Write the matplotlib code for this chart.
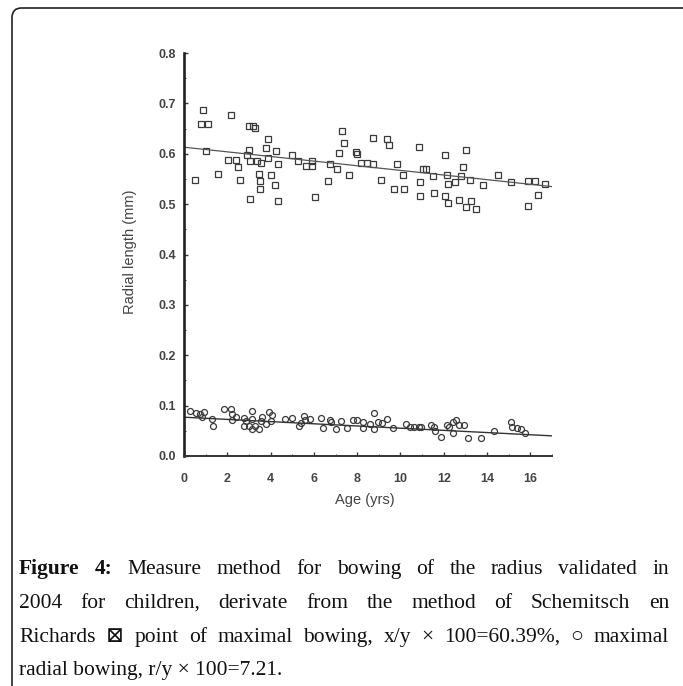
import numpy as np
import matplotlib
matplotlib.use('Agg')
import matplotlib.pyplot as plt
from matplotlib.patches import FancyBboxPatch
from matplotlib.ticker import MultipleLocator

# point of maximal bowing (squares)
sq_age = [0.49, 0.77, 0.90, 1.03, 1.10, 1.55, 2.04, 2.15, 2.41, 2.48,
          2.57, 2.93, 2.98, 3.00, 3.05, 3.05, 3.20, 3.30, 3.39, 3.45,
          3.50, 3.53, 3.55, 3.79, 3.90, 3.90, 4.04, 4.20, 4.23, 4.32,
          4.35, 4.97, 5.26, 5.62, 5.90, 5.90, 6.06, 6.64, 6.73, 7.05,
          7.17, 7.30, 7.41, 7.63, 7.95, 8.00, 8.19, 8.44, 8.71, 8.71,
          9.09, 9.36, 9.45, 9.69, 9.85, 10.10, 10.18, 10.86, 10.88, 10.90,
          11.02, 11.20, 11.48, 11.56, 12.05, 12.05, 12.17, 12.21, 12.21, 12.54,
          12.70, 12.79, 12.87, 13.03, 13.03, 13.22, 13.27, 13.50, 13.81, 14.50,
          15.10, 15.88, 15.90, 16.20, 16.37, 16.66]
sq_val = [0.547, 0.660, 0.686, 0.605, 0.660, 0.559, 0.587, 0.677, 0.587, 0.574,
          0.547, 0.597, 0.607, 0.655, 0.585, 0.511, 0.655, 0.652, 0.585, 0.559,
          0.546, 0.531, 0.582, 0.612, 0.630, 0.592, 0.558, 0.537, 0.605, 0.580,
          0.506, 0.597, 0.585, 0.576, 0.585, 0.576, 0.515, 0.546, 0.580, 0.570,
          0.601, 0.646, 0.622, 0.558, 0.603, 0.599, 0.582, 0.582, 0.580, 0.632,
          0.548, 0.630, 0.617, 0.531, 0.580, 0.558, 0.531, 0.614, 0.516, 0.543,
          0.569, 0.569, 0.556, 0.523, 0.597, 0.516, 0.558, 0.539, 0.502, 0.544,
          0.508, 0.556, 0.574, 0.607, 0.494, 0.548, 0.506, 0.490, 0.537, 0.558,
          0.543, 0.496, 0.546, 0.546, 0.519, 0.539]

# maximal radial bowing (circles)
ci_age = [0.30, 0.55, 0.76, 0.81, 0.93, 1.31, 1.34, 1.87, 2.17, 2.20,
          2.20, 2.40, 2.78, 2.86, 2.78, 2.98, 3.16, 3.16, 3.13, 3.28,
          3.47, 3.54, 3.62, 3.77, 3.92, 4.07, 4.00, 4.68, 4.98, 5.29,
          5.41, 5.56, 5.59, 5.82, 6.32, 6.40, 6.73, 6.81, 7.03, 7.23,
          7.54, 7.80, 7.99, 8.25, 8.25, 8.60, 8.78, 8.78, 8.97, 9.16,
          9.39, 9.67, 10.27, 10.43, 10.61, 10.84, 10.95, 11.41, 11.57, 11.61,
          11.87, 12.14, 12.23, 12.41, 12.56, 12.44, 12.72, 12.95, 13.10, 13.72,
          14.33, 15.10, 15.17, 15.40, 15.56, 15.76]
ci_val = [0.089, 0.086, 0.084, 0.077, 0.087, 0.073, 0.060, 0.094, 0.094, 0.084,
          0.071, 0.077, 0.075, 0.070, 0.060, 0.060, 0.089, 0.073, 0.053, 0.060,
          0.053, 0.070, 0.077, 0.063, 0.088, 0.082, 0.070, 0.073, 0.075, 0.060,
          0.065, 0.079, 0.072, 0.073, 0.075, 0.056, 0.071, 0.067, 0.053, 0.070,
          0.056, 0.071, 0.071, 0.067, 0.056, 0.063, 0.086, 0.054, 0.068, 0.065,
          0.073, 0.056, 0.063, 0.058, 0.058, 0.058, 0.057, 0.061, 0.057, 0.050,
          0.038, 0.062, 0.057, 0.068, 0.071, 0.046, 0.062, 0.062, 0.036, 0.035,
          0.050, 0.067, 0.057, 0.055, 0.054, 0.045]

# regression lines (end points)
sq_fit_age = [0.0, 17.6]
sq_fit_val = [0.613, 0.532]
ci_fit_age = [0.0, 17.0]
ci_fit_val = [0.077, 0.040]

y_ticks = [0.0, 0.1, 0.2, 0.3, 0.4, 0.5, 0.6, 0.7, 0.8]
x_ticks = [0, 2, 4, 6, 8, 10, 12, 14, 16]

caption_lines = [
    [("Figure", True), ("4:", True), ("Measure", False), ("method", False), ("for", False),
     ("bowing", False), ("of", False), ("the", False), ("radius", False),
     ("validated", False), ("in", False)],
    [(w, False) for w in "2004 for children, derivate from the method of Schemitsch en".split()],
    [(w, False) for w in "Richards \u22a0 point of maximal bowing, x/y \u00d7 100=60.39%, \u25cb maximal".split()],
]
caption_last = "radial bowing, r/y \u00d7 100=7.21."

W, H = 683, 686
ink = '#3a3a3a'
serif = ['Liberation Serif', 'DejaVu Serif', 'DejaVu Sans']

fig = plt.figure(figsize=(W / 100, H / 100), dpi=100)
ax = fig.add_axes([184 / W, 1 - 456 / H, (552 - 184) / W, (456 - 53) / H])

ax.plot(sq_age, sq_val, 's', ms=4.3, mfc='none', mec=ink, mew=0.9)
ax.plot(ci_age, ci_val, 'o', ms=4.3, mfc='none', mec=ink, mew=0.9)
ax.plot(sq_fit_age, sq_fit_val, color='#555555', lw=0.9)
ax.plot(ci_fit_age, ci_fit_val, color='#333333', lw=1.0)

ax.set_xlim(0, 17)
ax.set_ylim(0, 0.8)
ax.set_xticks(x_ticks)
ax.set_yticks(y_ticks)
ax.set_yticklabels(["%.1f" % v for v in y_ticks])
ax.xaxis.set_minor_locator(MultipleLocator(1))
ax.yaxis.set_minor_locator(MultipleLocator(0.05))
for s in ['top', 'right']:
    ax.spines[s].set_visible(False)
ax.spines['left'].set_linewidth(1.9)
ax.spines['bottom'].set_linewidth(1.4)
ax.spines['left'].set_color('#222222')
ax.spines['bottom'].set_color('#333333')
ax.tick_params(which='major', direction='in', length=3, width=1.0, color=ink)
ax.tick_params(which='minor', direction='in', length=1.5, width=0.7, color=ink)
ax.tick_params(axis='y', which='major', pad=6)
ax.tick_params(axis='x', which='major', pad=12)
for lab in ax.get_xticklabels() + ax.get_yticklabels():
    lab.set_fontfamily('Liberation Sans')
    lab.set_fontweight('bold')
    lab.set_fontsize(9)
    lab.set_color('#444444')

fig.text(130 / W, 1 - 252 / H, "Radial length (mm)", rotation=90, ha='center', va='center',
         family='Liberation Sans', fontsize=10.5, color='#444444')
fig.text(365 / W, 1 - 500 / H, "Age (yrs)", ha='center', va='center',
         family='Liberation Sans', fontsize=10.5, color='#444444')

# frame round the figure + caption
frame = FancyBboxPatch((12 / W, -0.1), 1.2, 0.1 + 1 - 8 / H,
                       boxstyle="round,pad=0,rounding_size=0.014",
                       transform=fig.transFigure, fill=False, lw=1.2, ec='#222222')
fig.patches.append(frame)

renderer = fig.canvas.get_renderer()
x_left, x_right = 19, 669
fsize = 15.5
baselines = [574, 608, 642, 675]
for line, yb in zip(caption_lines, baselines):
    texts = []
    for word, bold in line:
        t = fig.text(0, 1 - yb / H, word, fontsize=fsize, family=serif,
                     fontweight='bold' if bold else 'normal', va='baseline', color='#111111')
        texts.append(t)
    widths = [t.get_window_extent(renderer).width for t in texts]
    gap = (x_right - x_left - sum(widths)) / (len(texts) - 1)
    x = x_left
    for t, w in zip(texts, widths):
        t.set_x(x / W)
        x += w + gap
fig.text(x_left / W, 1 - baselines[3] / H, caption_last, fontsize=fsize, family=serif,
         va='baseline', color='#111111')

fig.savefig('out.png', dpi=100)
